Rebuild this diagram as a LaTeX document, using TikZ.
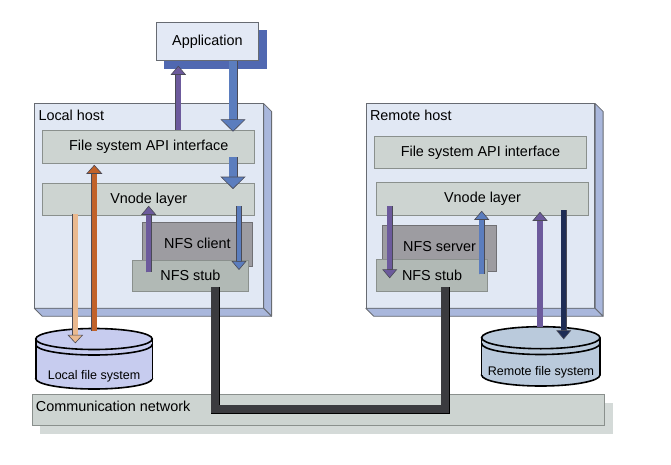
\documentclass[tikz,border=0pt]{standalone}
\usepackage{fontspec}
\setmainfont{Liberation Sans}
\usetikzlibrary{arrows.meta,calc,shadows}

% palette
\definecolor{hostface}{HTML}{E1E8F4}
\definecolor{hostside}{HTML}{A9B7DC}
\definecolor{hostrim}{HTML}{676B72}
\definecolor{layerfill}{HTML}{CDD4D1}
\definecolor{layerrim}{HTML}{8A908D}
\definecolor{nfsfill}{HTML}{9D9CA1}
\definecolor{nfsrim}{HTML}{707074}
\definecolor{stubfill}{HTML}{B1B9B5}
\definecolor{appfill}{HTML}{E3E9F5}
\definecolor{appshade}{HTML}{5068B1}
\definecolor{commshade}{HTML}{D4DAD8}
\definecolor{lfsfill}{HTML}{C7CCEF}
\definecolor{rfsfill}{HTML}{BACADC}
\definecolor{arrowrim}{HTML}{4A4A55}
\definecolor{purp}{HTML}{6C5A9C}
\definecolor{bluearr}{HTML}{5B7DBE}
\definecolor{orangearr}{HTML}{C1622A}
\definecolor{peach}{HTML}{EAB98F}
\definecolor{navy}{HTML}{1F2D55}
\definecolor{wire}{HTML}{3B3B3F}

\tikzset{
  plate/.style={rectangle, anchor=north west, inner sep=0pt, line width=0.8pt},
  host/.style={plate, fill=hostface, draw=hostrim},
  layer/.style={plate, fill=layerfill, draw=layerrim},
  nfsbox/.style={plate, fill=nfsfill, draw=nfsrim},
  stubbox/.style={plate, fill=stubfill, draw=layerrim},
  depth/.style={fill=hostside, draw=hostrim, line width=0.8pt, line join=round},
  cylrim/.style={draw=black, line width=1.6pt},
  small/.style={font=\fontsize{12.5}{14}\selectfont},
  fat/.style n args={4}{line width=#2, draw=#1,
    -{Triangle[width=#3,length=#4,fill=#1,color=arrowrim,line width=0.6pt]},
    preaction={draw=arrowrim, line width=#2+1pt, arrows=-, shorten >=#4-1.5pt}},
  wirepath/.style={draw=wire, line width=8pt, line join=miter,
    preaction={draw=black, line width=9pt}}
}

\begin{document}
\begin{tikzpicture}[x=1pt, y=-1pt,
  every node/.style={font=\fontsize{14.4}{17}\selectfont}]
\useasboundingbox (0,0) rectangle (671,465);

% ---------- hosts (3D plates) ----------
\node[host, minimum width=228.5pt, minimum height=204pt] (lhost) at (34.3,103.5) {};
\node[host, minimum width=228.5pt, minimum height=204pt] (rhost) at (365.8,103.5) {};
\foreach \h in {lhost, rhost} {
  \draw[depth] (\h.north east) -- ($(\h.north east)+(8,8)$) -- ($(\h.south east)+(8,8)$) -- (\h.south east) -- cycle;
  \draw[depth] (\h.south west) -- ($(\h.south west)+(8,8)$) -- ($(\h.south east)+(8,8)$) -- (\h.south east) -- cycle;
}
\node[anchor=west, inner sep=2pt] (lhostlbl) at ($(lhost.north west)+(2,11.5)$) {Local host};
\node[anchor=west, inner sep=2pt] (rhostlbl) at ($(rhost.north west)+(2,11.5)$) {Remote host};

% ---------- application ----------
\node[plate, fill=appfill, draw=hostrim, minimum width=102.6pt, minimum height=38.3pt,
      general shadow={fill=appshade, shadow xshift=8pt, shadow yshift=-8pt}]
      (app) at (155.7,22) {};
\node (apptext) at (app.center) {Application};

% ---------- local layers ----------
\node[layer, minimum width=212pt, minimum height=32.7pt] (lapi) at (42.3,130) {};
\node at (lapi.center) {File system API interface};
\node[layer, minimum width=212pt, minimum height=32.6pt] (lvn) at (42.3,182.7) {};
\node at (lvn.center) {Vnode layer};
\node[nfsbox, minimum width=109.4pt, minimum height=44.3pt] (nfsc) at (142.3,221.7) {};
\node at ($(nfsc.center)+(0,-0.5)$) {NFS client};
\node[stubbox, minimum width=115.4pt, minimum height=31pt] (lstub) at (132.3,259.7) {};
\node at (lstub.center) {NFS stub};

% ---------- remote layers ----------
\node[layer, minimum width=212pt, minimum height=32.3pt] (rapi) at (374,136) {};
\node at (rapi.center) {File system API interface};
\node[layer, minimum width=212.3pt, minimum height=33pt] (rvn) at (376,182.3) {};
\node at (rvn.center) {Vnode layer};
\node[nfsbox, minimum width=114pt, minimum height=45.4pt] (nfss) at (381.7,225.3) {};
\node at ($(nfss.center)+(0.5,-1.5)$) {NFS server};
\node[stubbox, minimum width=111.3pt, minimum height=31.4pt] (rstub) at (376,259.3) {};
\node at (rstub.center) {NFS stub};

% ---------- communication network ----------
\node[layer, minimum width=572.6pt, minimum height=31pt,
      general shadow={fill=commshade, shadow xshift=8pt, shadow yshift=-8pt}]
      (comm) at (31.7,394.3) {};
\node[anchor=west, inner sep=2pt] (commtext) at ($(comm.north west)+(2,12)$) {Communication network};

% ---------- file systems (cylinders) ----------
% local
\filldraw[cylrim, fill=lfsfill] (94,378.5) ellipse [x radius=58.3, y radius=10.5];
\fill[lfsfill] (35.7,339) rectangle (152.3,378.5);
\draw[cylrim] (35.7,339) -- (35.7,378.5) (152.3,339) -- (152.3,378.5);
\filldraw[cylrim, fill=lfsfill] (94,339) ellipse [x radius=58.3, y radius=10.5];
\draw[cylrim] (35.7,344.5) arc [start angle=180, end angle=360, x radius=58.3pt, y radius=10.5pt];
\coordinate (lfstop) at (94,339);
\node[small] (lfs) at (94,376) {Local file system};
% remote
\filldraw[cylrim, fill=rfsfill] (540.8,375) ellipse [x radius=59.2, y radius=11];
\fill[rfsfill] (481.6,337.7) rectangle (600,375);
\draw[cylrim] (481.6,337.7) -- (481.6,375) (600,337.7) -- (600,375);
\filldraw[cylrim, fill=rfsfill] (540.8,337.7) ellipse [x radius=59.2, y radius=11];
\draw[cylrim] (481.6,343.5) arc [start angle=180, end angle=360, x radius=59.2pt, y radius=11pt];
\coordinate (rfstop) at (540.8,337.7);
\node[small] (rfs) at (541,372.7) {Remote file system};

% ---------- network link between the stubs ----------
\coordinate (bus) at ($(comm.north west)+(0,14.7)$);
\coordinate (lwire) at ($(lstub.south west)+(83,-4.7)$);
\coordinate (rwire) at ($(rstub.south west)+(69.3,-4.7)$);
\draw[wirepath] (lwire) |- (bus -| rwire) -- (rwire);

% ---------- local host calls ----------
\draw[fat={purp}{5.3pt}{15.3pt}{9pt}] ($(lapi.north west)+(136,0)$) -- ($(app.south west)+(22.6,4.7)$);
\draw[fat={bluearr}{8pt}{25pt}{12.3pt}] ($(app.south west)+(77.3,0)$) -- ($(lapi.north west)+(190.7,1.7)$);
\draw[fat={bluearr}{8pt}{25pt}{12.3pt}] ($(lapi.south west)+(190.7,-6)$) -- ($(lvn.north west)+(190.7,6.3)$);
\draw[fat={orangearr}{5.3pt}{16pt}{9pt}] ($(lfstop)+(0.3,-8)$) -- ($(lapi.south west)+(52,1.3)$);
\draw[fat={peach}{5.3pt}{15.7pt}{8.5pt}] ($(lvn.south west)+(33,-2)$) -- ($(lfstop)+(-18.7,4.3)$);
\draw[fat={purp}{5.3pt}{15pt}{9pt}] ($(lstub.north west)+(16.4,12.6)$) -- ($(lvn.south west)+(106.4,-10.3)$);
\draw[fat={bluearr}{4.7pt}{15pt}{9pt}] ($(lvn.south west)+(196.7,-10)$) -- ($(lstub.north west)+(106.7,10.3)$);

% ---------- remote host calls ----------
\draw[fat={purp}{5.3pt}{15pt}{9pt}] ($(rvn.south west)+(13.7,-10)$) -- ($(rstub.north west)+(13.7,19)$);
\draw[fat={bluearr}{5.3pt}{15pt}{9pt}] ($(rstub.north west)+(105.7,15)$) -- ($(rvn.south west)+(105.7,-5.3)$);
\draw[fat={purp}{5.3pt}{15pt}{9pt}] ($(rfstop)+(-0.8,-11)$) -- ($(rvn.south west)+(164,-4.3)$);
\draw[fat={navy}{5.3pt}{15pt}{9pt}] ($(rvn.south west)+(187.7,-6)$) -- ($(rfstop)+(22.9,1.6)$);
\end{tikzpicture}
\end{document}
